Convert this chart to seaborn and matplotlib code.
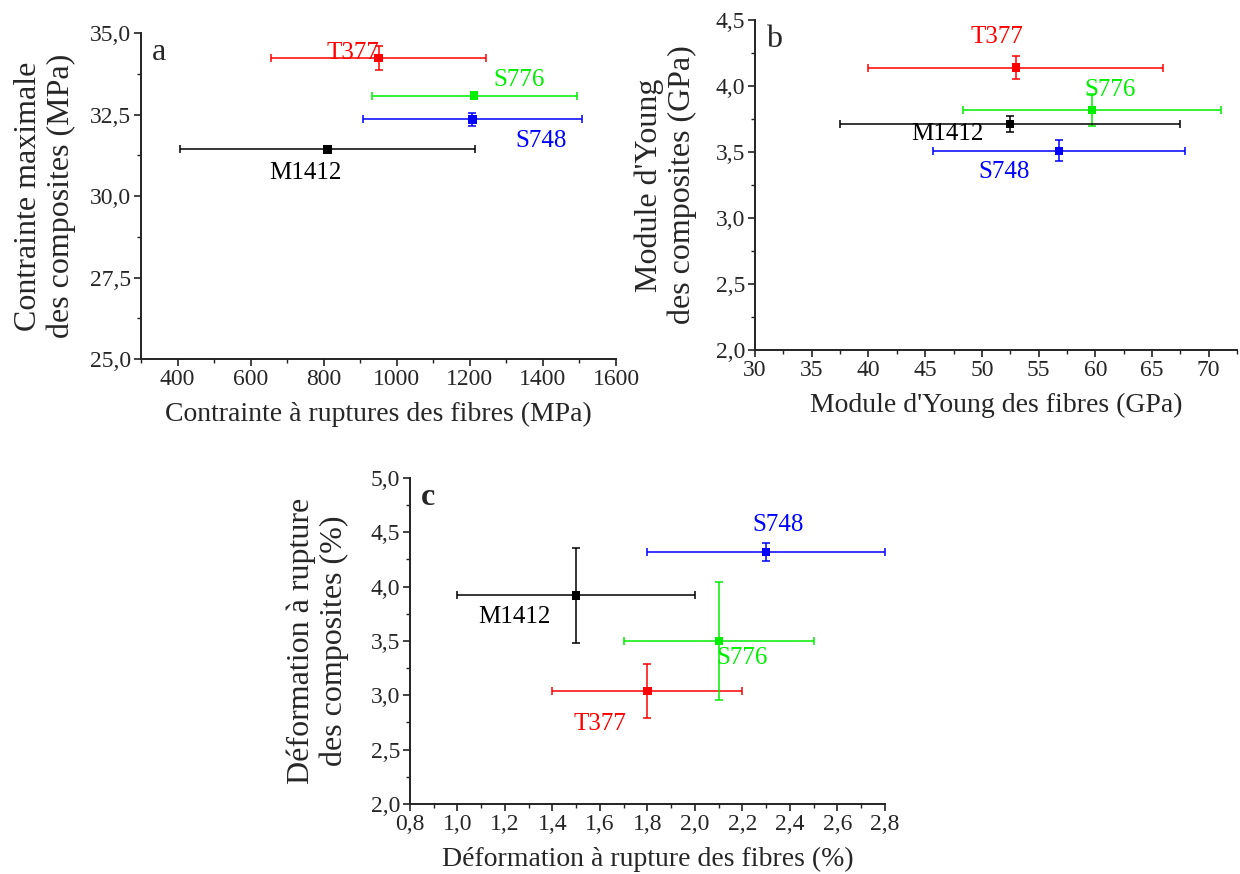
import numpy as np
import pandas as pd
import seaborn as sns
from matplotlib import pyplot as plt
from matplotlib.ticker import MultipleLocator, FuncFormatter

# fibres
samples = ['T377', 'S776', 'S748', 'M1412']
colors = ['#ff0000', '#00ee00', '#0000ff', '#000000']

# a : contrainte
strength_fib = [950, 1212, 1207, 810]
strength_fib_err = [295, 280, 300, 404]
strength_comp = [34.24, 33.08, 32.35, 31.43]
strength_comp_err = [0.37, 0.03, 0.19, 0.06]

# b : module d'Young
young_fib = [53.0, 59.7, 56.8, 52.5]
young_fib_err = [13.0, 11.4, 11.1, 15.0]
young_comp = [4.14, 3.82, 3.51, 3.71]
young_comp_err = [0.09, 0.12, 0.08, 0.06]

# c : deformation
strain_fib = [1.8, 2.1, 2.3, 1.5]
strain_fib_err = [0.4, 0.4, 0.5, 0.5]
strain_comp = [3.04, 3.50, 4.32, 3.92]
strain_comp_err = [0.25, 0.54, 0.08, 0.44]

sns.set_style('ticks')
plt.rcParams['font.family'] = ['Liberation Serif', 'DejaVu Serif']
plt.rcParams['xtick.direction'] = 'out'
plt.rcParams['ytick.direction'] = 'out'

comma = FuncFormatter(lambda v, p: f'{v:.1f}'.replace('.', ','))


def panel(ax, x, xe, y, ye, letter, labels_pos, xlim, ylim, xmaj, xmin, ymaj, ymin,
          xlabel, ylabel, ylab_x, xfmt=None):
    df = pd.DataFrame({'x': x, 'y': y, 'sample': samples})
    for i in range(len(samples)):
        ax.errorbar(x[i], y[i], xerr=xe[i], yerr=ye[i], fmt='none',
                    ecolor=colors[i], elinewidth=1.1, capsize=3, capthick=1.1)
    sns.scatterplot(data=df, x='x', y='y', hue='sample', palette=colors,
                    marker='s', s=36, edgecolor='none', legend=False, ax=ax, zorder=3)
    for i, (lx, ly) in enumerate(labels_pos):
        ax.text(lx, ly, samples[i], color=colors[i], fontsize=18,
                ha='center', va='center')
    ax.text(0.022, 0.985, letter, transform=ax.transAxes, fontsize=23,
            ha='left', va='top', fontweight='bold' if letter == 'c' else 'normal')
    ax.set_xlim(*xlim)
    ax.set_ylim(*ylim)
    ax.xaxis.set_major_locator(MultipleLocator(xmaj))
    ax.xaxis.set_minor_locator(MultipleLocator(xmin))
    ax.yaxis.set_major_locator(MultipleLocator(ymaj))
    ax.yaxis.set_minor_locator(MultipleLocator(ymin))
    ax.yaxis.set_major_formatter(comma)
    if xfmt is not None:
        ax.xaxis.set_major_formatter(xfmt)
    ax.tick_params(which='major', length=5, width=1.2, labelsize=17, pad=2,
                   color='#222222')
    ax.tick_params(which='minor', length=3, width=1.0, color='#222222')
    for s in ['left', 'bottom']:
        ax.spines[s].set_linewidth(1.4)
        ax.spines[s].set_color('#222222')
    sns.despine(ax=ax)
    ax.set_xlabel(xlabel, fontsize=20, labelpad=9)
    ax.set_ylabel(ylabel, fontsize=23, linespacing=1.15)
    ax.yaxis.set_label_coords(ylab_x, 0.5)


fig = plt.figure(figsize=(12.4, 8.74), dpi=100)
ax_a = fig.add_axes([0.1137, 0.5892, 0.3831, 0.3730])
ax_b = fig.add_axes([0.6089, 0.5995, 0.3887, 0.3776])
ax_c = fig.add_axes([0.3306, 0.0801, 0.3831, 0.3730])

panel(ax_a, strength_fib, strength_fib_err, strength_comp, strength_comp_err, 'a',
      [(880, 34.4), (1335, 33.55), (1395, 31.7), (750, 30.7)],
      (300, 1600), (25, 35), 200, 100, 2.5, 1.25,
      'Contrainte à ruptures des fibres (MPa)',
      'Contrainte maximale\ndes composites (MPa)', -0.137,
      xfmt=FuncFormatter(lambda v, p: f'{v:.0f}'))

panel(ax_b, young_fib, young_fib_err, young_comp, young_comp_err, 'b',
      [(51.3, 4.37), (61.3, 3.97), (52.0, 3.35), (47.0, 3.64)],
      (30, 72.5), (2.0, 4.5), 5, 2.5, 0.5, 0.25,
      "Module d'Young des fibres (GPa)",
      "Module d'Young\ndes composites (GPa)", -0.120,
      xfmt=FuncFormatter(lambda v, p: f'{v:.0f}'))

panel(ax_c, strain_fib, strain_fib_err, strain_comp, strain_comp_err, 'c',
      [(1.6, 2.74), (2.2, 3.34), (2.35, 4.57), (1.24, 3.72)],
      (0.8, 2.8), (2.0, 5.0), 0.2, 0.1, 0.5, 0.25,
      'Déformation à rupture des fibres (%)',
      'Déformation à rupture\ndes composites (%)', -0.128,
      xfmt=comma)

fig.savefig('out.png', dpi=100)
